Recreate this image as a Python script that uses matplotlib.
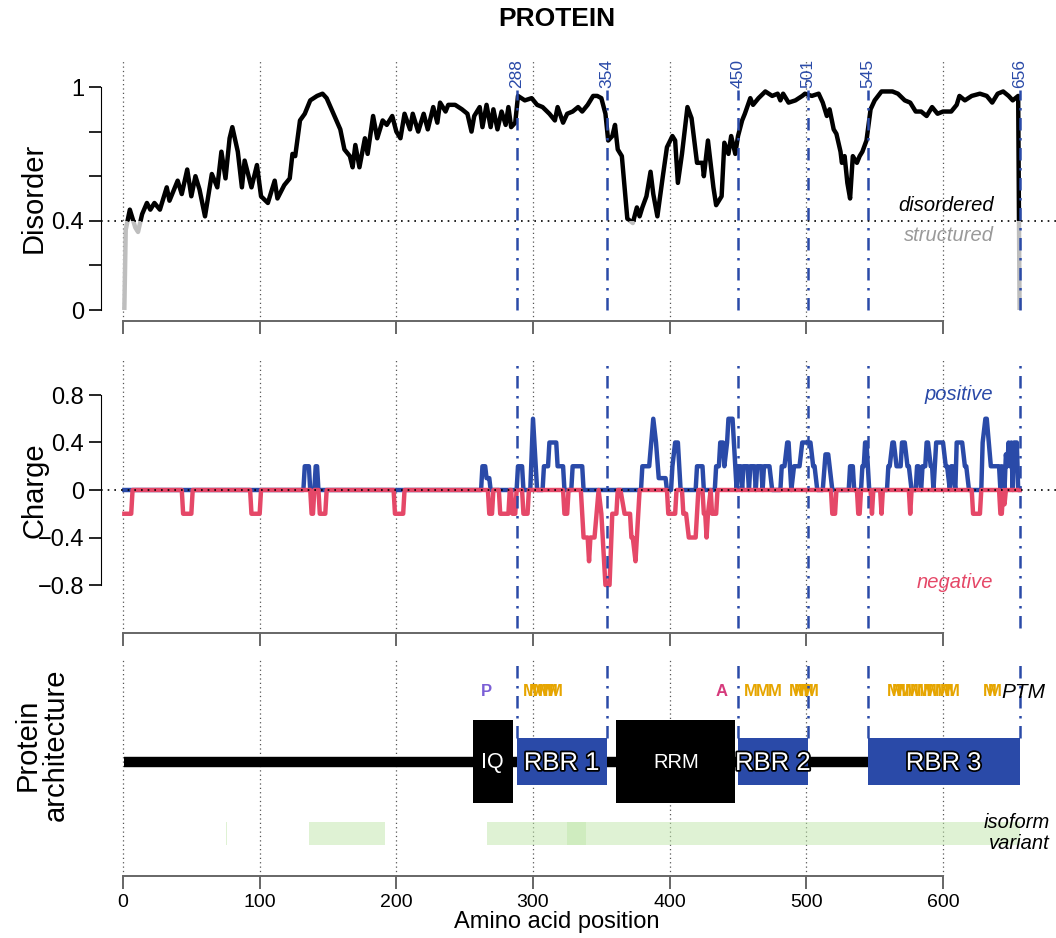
import numpy as np
import matplotlib
matplotlib.use("Agg")
import matplotlib.pyplot as plt
from matplotlib.patches import Rectangle
import matplotlib.patheffects as pe

plt.rcParams['font.family'] = ['Liberation Sans', 'DejaVu Sans']

# ---------------- data ----------------
disorder_pos = [1, 2, 5, 9, 11, 14, 17.5, 20, 23, 27, 32, 34, 40, 43, 47, 50, 53, 56, 60, 65, 69, 72, 75, 78,
                80, 84, 87, 89, 94, 98, 101, 106, 111, 113, 118, 122, 124, 126, 129.5, 133, 137, 142, 146,
                149, 154, 159, 162, 166, 168, 170, 173, 177, 179, 183, 186, 190, 193, 197, 200, 203, 206,
                210, 212, 216, 220, 223, 227, 230, 232, 236, 238, 243, 248, 252, 255, 257, 261, 263, 266,
                269, 271, 274, 277, 280, 282, 284, 287, 289, 294, 299, 303, 307, 312, 316, 318, 322, 325,
                329, 333, 336, 340, 344, 347, 350, 353, 355, 358, 360, 362, 365, 367, 369, 373, 376, 378,
                380, 383, 386, 388, 391, 393, 395, 398, 402, 404, 406, 409, 413, 416, 420, 424, 425, 428,
                432, 434, 438, 440, 443, 445, 448, 450, 453, 455, 459, 461, 465, 470, 475, 479, 481, 483,
                487, 492, 497, 499, 504, 509, 512, 515, 517, 520, 522, 525, 526, 528, 530, 532, 534, 537,
                539, 541, 544, 547, 550, 555, 563, 567, 572, 576, 580, 584, 588, 592, 596, 600, 606, 610,
                612, 616, 621, 627, 632, 636, 640, 644, 648, 651, 655, 656]
disorder_val = [0.01, 0.36, 0.45, 0.37, 0.35, 0.43, 0.48, 0.45, 0.48, 0.45, 0.55, 0.49, 0.58, 0.52, 0.63, 0.51,
                0.60, 0.54, 0.42, 0.61, 0.55, 0.71, 0.59, 0.77, 0.82, 0.71, 0.55, 0.67, 0.55, 0.65, 0.51,
                0.48, 0.58, 0.50, 0.56, 0.59, 0.70, 0.69, 0.85, 0.88, 0.94, 0.96, 0.97, 0.95, 0.88, 0.81,
                0.72, 0.69, 0.64, 0.74, 0.64, 0.77, 0.70, 0.87, 0.77, 0.85, 0.83, 0.87, 0.80, 0.77, 0.88,
                0.81, 0.88, 0.80, 0.88, 0.81, 0.91, 0.84, 0.93, 0.89, 0.92, 0.92, 0.90, 0.88, 0.80, 0.87,
                0.91, 0.82, 0.92, 0.82, 0.90, 0.81, 0.89, 0.83, 0.91, 0.82, 0.84, 0.96, 0.94, 0.95, 0.92,
                0.91, 0.88, 0.85, 0.91, 0.84, 0.88, 0.89, 0.91, 0.89, 0.92, 0.96, 0.96, 0.95, 0.88, 0.76,
                0.78, 0.83, 0.72, 0.69, 0.55, 0.41, 0.39, 0.46, 0.42, 0.46, 0.51, 0.62, 0.52, 0.42, 0.51,
                0.60, 0.73, 0.78, 0.76, 0.57, 0.70, 0.91, 0.86, 0.66, 0.66, 0.60, 0.76, 0.55, 0.47, 0.51,
                0.75, 0.70, 0.78, 0.70, 0.78, 0.85, 0.88, 0.95, 0.92, 0.95, 0.98, 0.96, 0.97, 0.94, 0.97,
                0.93, 0.94, 0.96, 0.97, 0.96, 0.97, 0.93, 0.87, 0.90, 0.81, 0.79, 0.71, 0.66, 0.69, 0.57,
                0.50, 0.69, 0.66, 0.69, 0.71, 0.76, 0.90, 0.94, 0.98, 0.98, 0.97, 0.94, 0.93, 0.89, 0.89,
                0.87, 0.91, 0.88, 0.89, 0.89, 0.92, 0.96, 0.94, 0.96, 0.97, 0.96, 0.93, 0.97, 0.98, 0.96,
                0.94, 0.96, 0.01]

# (residue, charge) knots of the positive-charge trace
charge_positive = [
    (1, 0), (132, 0), (133, 0.2), (136, 0.2), (137, 0), (140, 0), (141, 0.2), (142, 0.2), (143, 0),
    (262, 0), (263, 0.2), (265, 0.2), (266, 0.1), (268, 0.1), (269, 0),
    (288, 0), (289, 0.2), (292, 0.2), (293, 0),
    (298, 0), (300, 0.6), (301, 0.4), (303, 0),
    (307, 0), (308, 0.2), (311, 0.2), (312, 0.4), (317, 0.4), (318, 0.2), (322, 0.2), (323, 0),
    (328, 0), (329, 0.2), (336, 0.2), (337, 0),
    (379, 0), (380, 0.2), (385, 0.2), (388, 0.6), (390, 0.4), (392, 0.1), (397, 0.1), (398, 0),
    (401, 0), (402, 0.2), (404, 0.4), (406, 0.4), (408, 0),
    (419, 0), (420, 0.2), (424, 0.2), (425, 0),
    (433, 0), (434, 0.2), (436, 0.2), (437, 0.4), (439, 0.4), (440, 0.2), (442, 0.4), (443, 0.6),
    (446, 0.6), (449, 0),
    (450, 0.2), (452, 0.2), (453, 0), (454, 0.2), (457, 0.2), (458, 0), (459, 0.2), (462, 0.2), (463, 0),
    (464, 0.2), (467, 0.2), (468, 0), (469, 0.2), (473, 0.2), (475, 0),
    (481, 0), (482, 0.2), (484, 0.2), (486, 0.4), (487, 0.4), (488, 0.2), (489, 0), (491, 0.2),
    (495, 0.2), (497, 0.4), (503, 0.4), (505, 0.2), (506, 0.2), (508, 0),
    (512, 0), (514, 0.3), (516, 0.3), (519, 0),
    (531, 0), (532, 0.2), (534, 0.2), (535, 0),
    (540, 0), (541, 0.2), (542, 0.2), (543, 0.4), (544, 0.4), (546, 0),
    (559, 0), (560, 0.2), (561, 0.2), (563, 0.4), (564, 0.4), (566, 0.2), (569, 0.2), (570, 0.4),
    (572, 0.4), (574, 0.2), (575, 0.2), (577, 0),
    (580, 0), (581, 0.2), (582, 0.2), (584, 0), (585, 0.2), (587, 0.2), (588, 0.4), (589, 0.4),
    (591, 0.2), (592, 0.2), (593, 0), (594, 0.2), (595, 0.4), (600, 0.4), (602, 0.2), (603, 0.2),
    (605, 0), (606, 0.2), (607, 0.2), (609, 0), (610, 0.4), (614, 0.4), (616, 0.2), (617, 0.2), (619, 0),
    (628, 0), (629, 0.4), (631, 0.6), (632, 0.6), (635, 0.2), (641, 0.2), (642, 0), (643, 0.2), (645, 0),
    (646, 0.3), (647, 0.2), (648, 0.4), (649, 0.2), (650, 0.4), (651, 0), (652, 0.4), (654, 0.4),
    (655, 0), (656, 0)]

# (residue, charge) knots of the negative-charge trace
charge_negative = [
    (1, -0.2), (6, -0.2), (7, 0), (43, 0), (44, -0.2), (50, -0.2), (51, 0), (93, 0), (94, -0.2),
    (100, -0.2), (101, 0),
    (137, 0), (138, -0.2), (139, -0.2), (140, 0), (143, 0), (144, -0.2), (148, -0.2), (149, 0),
    (198, 0), (199, -0.2), (205, -0.2), (206, 0),
    (267, 0), (268, -0.2), (270, -0.2), (271, 0), (275, 0), (276, -0.2), (282, -0.2), (283, 0),
    (284, 0), (285, -0.2), (287, -0.2), (288, 0),
    (292, 0), (293, -0.2), (296, -0.2), (297, 0), (322, 0), (323, -0.2), (325, -0.2), (326, 0),
    (335, 0), (337, -0.4), (340, -0.4), (341, -0.6), (342, -0.4), (345, -0.4), (348, 0), (350, -0.2),
    (353, -0.8), (356, -0.8), (358, -0.2), (361, -0.2), (362, 0), (364, 0), (367, -0.2), (371, -0.2),
    (372, -0.4), (373, -0.4), (375, -0.6), (378, 0),
    (398, 0), (399, -0.2), (404, -0.2), (405, 0), (409, 0), (410, -0.2), (412, -0.2), (414, -0.4),
    (419, -0.4), (421, 0),
    (424, 0), (425, -0.2), (426, -0.2), (427, -0.4), (428, -0.2), (430, 0), (431, -0.2), (434, -0.2),
    (435, 0),
    (518, 0), (519, -0.2), (521, -0.2), (522, 0), (537, 0), (538, -0.2), (539, -0.2), (540, 0),
    (547, 0), (548, -0.2), (549, 0), (554, 0), (555, -0.2), (556, 0), (575, 0), (576, -0.2), (577, 0),
    (621, 0), (622, -0.2), (627, -0.2), (628, 0), (641, 0), (642, -0.2), (643, -0.2), (644, 0),
    (645, -0.12), (646, 0), (656, 0)]

boundaries = [288, 354, 450, 501, 545, 656]

domain_names = ['IQ', 'RBR 1', 'RRM', 'RBR 2', 'RBR 3']
domain_start = [256, 288, 361, 450, 545]
domain_end = [285, 354, 448, 501, 656]
domain_kind = ['black', 'blue', 'black', 'blue', 'blue']

ptm_letters = ['P', 'A'] + ['M'] * 26
ptm_pos = [266, 438,
           298, 302, 305, 309, 313, 317,
           459, 468, 477,
           492, 496, 500, 504,
           564, 568, 572, 577, 581, 586, 590, 594, 599, 603, 607,
           634, 638]

isoform_start = [75, 136, 266, 325]
isoform_end = [76, 192, 339, 656]

protein_length = 656
x_ticks = [0, 100, 200, 300, 400, 500, 600]

# ---------------- style ----------------
W, H = 1056, 938
BLUE = '#2A4AA8'
RED = '#E54868'
GREY = '#BEBEBE'
AXGREY = '#666666'
PX = 1.3667          # pixels per residue
X0PX = 123           # pixel position of residue 0
AXL = 101            # left spine pixel
xl = ((AXL - X0PX) / PX, (W - X0PX) / PX)

fig = plt.figure(figsize=(W / 100, H / 100), dpi=100)


def make_ax(top_px, bot_px):
    return fig.add_axes([AXL / W, 1 - bot_px / H, (W - AXL) / W, (bot_px - top_px) / H])


def style_common(ax, labels=False):
    ax.set_xlim(*xl)
    for s in ['top', 'right']:
        ax.spines[s].set_visible(False)
    ax.spines['bottom'].set_bounds(0, 600)
    ax.spines['bottom'].set_color(AXGREY)
    ax.spines['bottom'].set_linewidth(1.4)
    ax.set_xticks(x_ticks)
    ax.tick_params(axis='x', direction='out', length=9, width=1.4, color=AXGREY,
                   labelsize=14, pad=4, labelbottom=labels)
    for t in x_ticks:
        ax.axvline(t, color='#555555', lw=0.9, ls=(0, (1, 2.5)), zorder=1)
    ax.patch.set_alpha(0)


def dashdot_lines(ax, y0, y1):
    for b in boundaries:
        ax.plot([b, b], [y0, y1], color=BLUE, lw=1.8, ls=(0, (5, 3, 1, 3)), zorder=6, clip_on=False)


# ---- Panel 1: Disorder ----
ax1 = make_ax(60, 321)
sc1 = 223.0
ax1.set_ylim((310 - 321) / sc1, (310 - 60) / sc1)
style_common(ax1)
ax1.spines['left'].set_bounds(0, 1)
ax1.set_yticks([0, 0.2, 0.4, 0.6, 0.8, 1.0])
ax1.set_yticklabels(['0', '', '0.4', '', '', '1'])
ax1.tick_params(axis='y', direction='out', length=9, width=1.2, labelsize=17, pad=3)
ax1.axhline(0.4, xmin=0, xmax=1, color='k', lw=1.2, ls=(0, (1, 3)), zorder=7)
lg, = ax1.plot(disorder_pos, disorder_val, color=GREY, lw=3.2, zorder=3, solid_joinstyle='round')
lb, = ax1.plot(disorder_pos, disorder_val, color='black', lw=3.2, zorder=4, solid_joinstyle='round')
clipb = Rectangle((-100, 0.4), 1000, 2, transform=ax1.transData)
clipg = Rectangle((-100, -2), 1000, 2.4, transform=ax1.transData)
lb.set_clip_path(clipb)
lg.set_clip_path(clipg)
dashdot_lines(ax1, 0.0, 0.985)
for b in boundaries:
    ax1.text(b, 0.995, str(b), rotation=90, ha='center', va='bottom', color=BLUE, fontsize=12.5,
             clip_on=False)
ax1.text(637, 0.425, 'disordered', style='italic', ha='right', va='bottom', fontsize=14.5, color='black')
ax1.text(637, 0.375, 'structured', style='italic', ha='right', va='top', fontsize=14.5, color='#9A9A9A')

# ---- Panel 2: Charge ----
ax2 = make_ax(360, 633)
sc2 = 118.75
ax2.set_ylim((490 - 633) / sc2, (490 - 360) / sc2)
style_common(ax2)
ax2.spines['left'].set_bounds(-0.8, 0.8)
ax2.set_yticks([-0.8, -0.4, 0, 0.4, 0.8])
ax2.set_yticklabels(['\u22120.8', '\u22120.4', '0', '0.4', '0.8'])
ax2.tick_params(axis='y', direction='out', length=9, width=1.2, labelsize=17, pad=3)
px_, py_ = zip(*charge_positive)
nx_, ny_ = zip(*charge_negative)
ax2.plot(px_, py_, color=BLUE, lw=3.2, zorder=3)
ax2.plot(nx_, ny_, color=RED, lw=3.2, zorder=4)
ax2.axhline(0, color='k', lw=1.2, ls=(0, (1, 3)), zorder=7)
dashdot_lines(ax2, -1.16, 1.07)
ax2.text(637, 0.8, 'positive', style='italic', ha='right', va='center', fontsize=14.5, color=BLUE)
ax2.text(637, -0.78, 'negative', style='italic', ha='right', va='center', fontsize=14.5, color=RED)

# ---- Panel 3: Architecture ----
ax3 = make_ax(660, 876)
ax3.set_ylim(-(876 - 762), 762 - 660)
style_common(ax3, labels=True)
ax3.spines['left'].set_visible(False)
ax3.set_yticks([])
# backbone
ax3.plot([1, protein_length], [0, 0], color='black', lw=7.5, solid_capstyle='butt', zorder=3)
for name, s, e, kind in zip(domain_names, domain_start, domain_end, domain_kind):
    if kind == 'black':
        ax3.add_patch(Rectangle((s, -41), e - s, 83, facecolor='black', edgecolor='none', zorder=4))
        fs = 15.5 if name == 'IQ' else 14.5
        ax3.text((s + e) / 2, 0, name, color='white', ha='center', va='center', fontsize=fs, zorder=5)
    else:
        ax3.add_patch(Rectangle((s, -23), e - s, 47, facecolor=BLUE, edgecolor='none', zorder=4))
        ax3.text((s + e) / 2, -1, name, color='white', ha='center', va='center', fontsize=18.5, zorder=5,
                 path_effects=[pe.withStroke(linewidth=2.5, foreground='black')])
# boundary lines above domains
dashdot_lines(ax3, 24, 98)
# PTMs
ptm_colors = {'P': '#7B5FD6', 'A': '#D63A7C', 'M': '#E6A500'}
for L, p in zip(ptm_letters, ptm_pos):
    ax3.text(p, 71, L, color=ptm_colors[L], ha='center', va='center', fontsize=12, fontweight='bold',
             zorder=5)
ax3.text(675, 70, 'PTM', style='italic', ha='right', va='center', fontsize=15, color='black', zorder=6,
         clip_on=False)
# isoforms
for s, e in zip(isoform_start, isoform_end):
    ax3.add_patch(Rectangle((s, -83), e - s, 23, facecolor='#C1E7AB', alpha=0.5, edgecolor='none',
                            zorder=2))
ax3.text(678, -71, 'isoform\nvariant', style='italic', ha='right', va='center', fontsize=14.5,
         color='black', linespacing=1.15, clip_on=False)

# ---- figure texts ----
fig.text(557 / W, 1 - 19 / H, 'PROTEIN', ha='center', va='center', fontsize=19, fontweight='bold')
fig.text(557 / W, 1 - 922 / H, 'Amino acid position', ha='center', va='center', fontsize=17)
fig.text(34 / W, 1 - 198 / H, 'Disorder', rotation=90, ha='center', va='center', fontsize=21)
fig.text(34 / W, 1 - 490 / H, 'Charge', rotation=90, ha='center', va='center', fontsize=21)
fig.text(42 / W, 1 - 745 / H, 'Protein\narchitecture', rotation=90, ha='center', va='center',
         fontsize=21, multialignment='center', linespacing=1.0)

fig.savefig('out.png', dpi=100)
